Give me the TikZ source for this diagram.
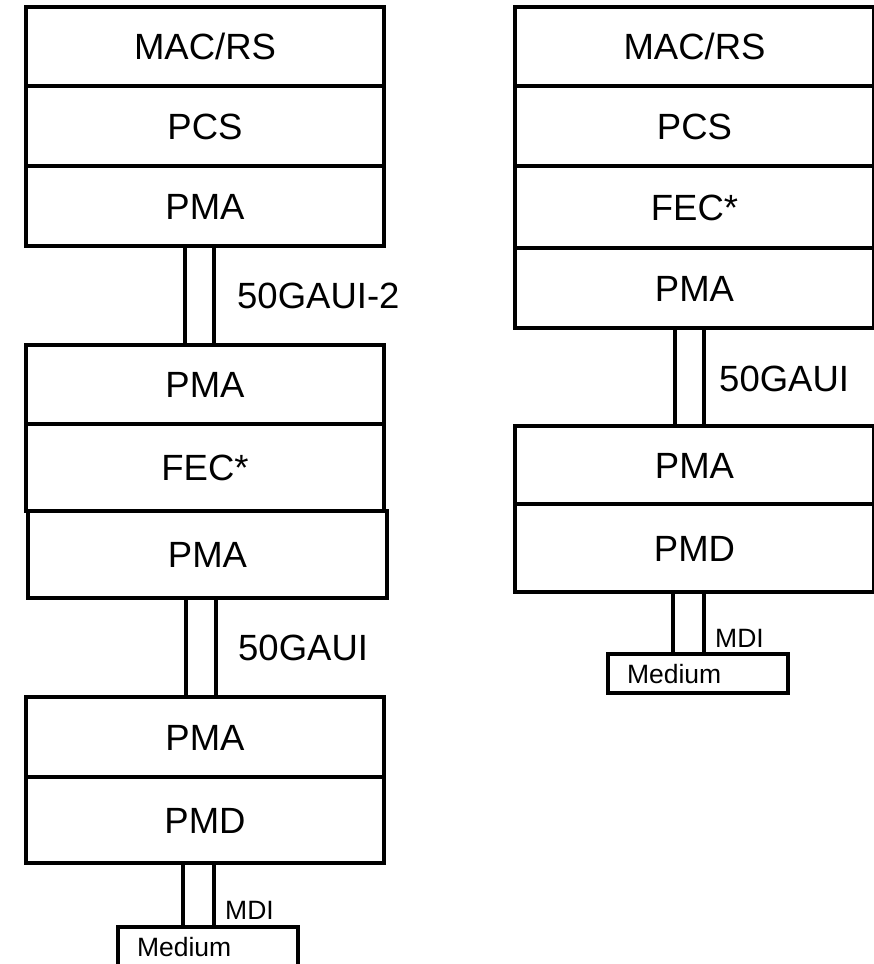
\documentclass[tikz,border=0pt]{standalone}
\usepackage{fontspec}
\setmainfont{Liberation Sans}
\begin{document}
\begin{tikzpicture}[x=1pt,y=-1pt,
  layer/.style={draw, line width=3.3pt, inner sep=0pt, minimum width=358pt,
    font=\fontsize{36.5}{40}\selectfont, text height=26.1pt, text depth=0pt},
  link/.style={draw, line width=3.3pt, inner sep=0pt},
  lbl/.style={anchor=base west, inner sep=0pt, font=\fontsize{36.5}{40}\selectfont},
  slbl/.style={anchor=base west, inner sep=0pt, font=\fontsize{26.5}{30}\selectfont},
  medium/.style={draw, line width=3.3pt, inner xsep=19pt, inner ysep=0pt,
    minimum width=180pt, text width=142pt, align=left,
    font=\fontsize{26.5}{30}\selectfont, text height=19pt, text depth=0pt}]
\useasboundingbox (0,0) rectangle (873,964);
% left stack
\node[layer, minimum height=79pt] (l1) at (205,46.5) {MAC/RS};
\node[layer, minimum height=80pt] (l2) at (205,126) {PCS};
\node[layer, minimum height=80pt] (l3) at (205,206) {PMA};
\node[link, minimum width=29pt, minimum height=99pt] (c1) at (199.5,295.5) {};
\node[lbl] (t1) at (237,308) {50GAUI-2};
\node[layer, minimum height=79pt] (l4) at (205,384.5) {PMA};
\node[layer, minimum height=87pt] (l5) at (205,467.5) {FEC*};
\node[layer, minimum height=87pt, minimum width=359pt] (l6) at (207.5,554.5) {PMA};
\node[link, minimum width=30pt, minimum height=99pt] (c2) at (201,647.5) {};
\node[lbl] (t2) at (238,660) {50GAUI};
\node[layer, minimum height=80pt] (l7) at (205,737) {PMA};
\node[layer, minimum height=86pt] (l8) at (205,820) {PMD};
\node[link, minimum width=31pt, minimum height=64pt] (c3) at (198.5,895) {};
\node[slbl] (t3) at (225,919) {MDI};
\node[medium, minimum height=40pt] (m1) at (208,947) {Medium};
% right stack
\node[layer, minimum width=359pt, minimum height=79pt] (r1) at (694.5,46.5) {MAC/RS};
\node[layer, minimum width=359pt, minimum height=80pt] (r2) at (694.5,126) {PCS};
\node[layer, minimum width=359pt, minimum height=82pt] (r3) at (694.5,207) {FEC*};
\node[layer, minimum width=359pt, minimum height=80pt] (r4) at (694.5,288) {PMA};
\node[link, minimum width=29pt, minimum height=98pt] (c4) at (689.5,377) {};
\node[lbl] (t4) at (719,391) {50GAUI};
\node[layer, minimum width=359pt, minimum height=78pt] (r5) at (694.5,465) {PMA};
\node[layer, minimum width=359pt, minimum height=88pt] (r6) at (694.5,548) {PMD};
\node[link, minimum width=31pt, minimum height=62pt] (c5) at (688.5,623) {};
\node[slbl] (t5) at (715,647) {MDI};
\node[medium, minimum height=39pt] (m2) at (698,673.5) {Medium};
\end{tikzpicture}
\end{document}
